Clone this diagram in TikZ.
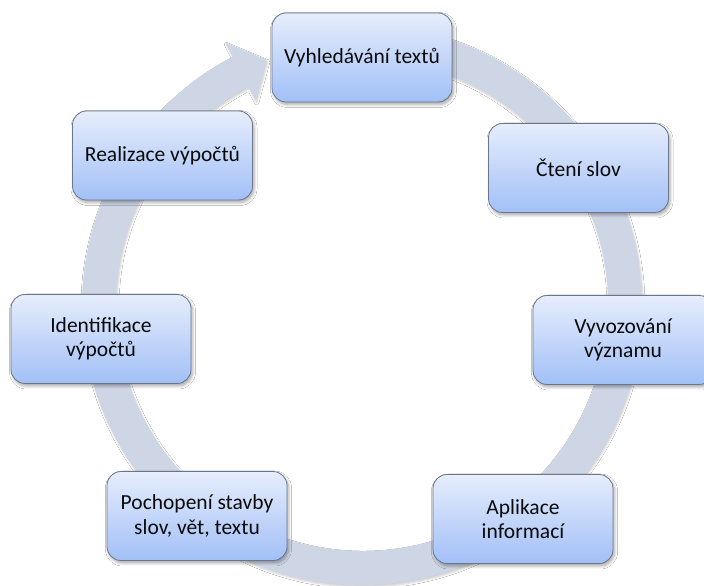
\documentclass[tikz,border=0pt]{standalone}
\usepackage{fontspec}
\setmainfont{Carlito}
\usetikzlibrary{calc,shadows.blur}
\definecolor{ringcol}{RGB}{206,214,230}
\definecolor{boxtop}{RGB}{230,237,252}
\definecolor{boxbot}{RGB}{162,192,247}
\definecolor{boxline}{RGB}{108,118,138}
\definecolor{txtcol}{RGB}{10,10,10}
\tikzset{
  stepbox/.style={draw=boxline, line width=0.8pt, rounded corners=14pt,
    top color=boxtop, bottom color=boxbot,
    minimum width=180pt, minimum height=89pt, align=center,
    text=txtcol, font=\fontsize{21.5}{24.5}\selectfont,
    blur shadow={shadow xshift=1.5pt, shadow yshift=-2.5pt, shadow blur steps=6, shadow opacity=35, shadow blur radius=3pt}},
  ringfill/.style={fill=ringcol,
    blur shadow={shadow xshift=1pt, shadow yshift=-2pt, shadow blur steps=5, shadow opacity=20, shadow blur radius=2pt}}
}
\begin{document}
\begin{tikzpicture}[x=1pt,y=1pt]
\useasboundingbox (0,0) rectangle (704,586);
\clip (0,0) rectangle (704,586);
\fill[white] (0,0) rectangle (704,586);
\coordinate (C) at (362,281);
% ring arrow
\path[ringfill] ($(C)+(95:280)$) arc[start angle=95, end angle=-242.5, radius=280]
  -- ($(C)+(-242.5:296)$) -- ($(C)+(-248.8:263)$) -- ($(C)+(-242.5:230)$)
  -- ($(C)+(-242.5:246)$) arc[start angle=-242.5, end angle=95, radius=246] -- cycle;
% steps
\node[stepbox] (n1) at (362,528.5) {Vyhledávání textů};
\node[stepbox] (n2) at (578.5,418) {Čtení slov};
\node[stepbox] (n3) at (623,246) {Vyvozování\\významu};
\node[stepbox] (n4) at (523,67) {Aplikace\\informací};
\node[stepbox] (n5) at (197,70) {Pochopení stavby\\slov, vět, textu};
\node[stepbox] (n6) at (101,247) {Identifikace\\výpočtů};
\node[stepbox] (n7) at (162.5,430.5) {Realizace výpočtů};
\end{tikzpicture}
\end{document}
